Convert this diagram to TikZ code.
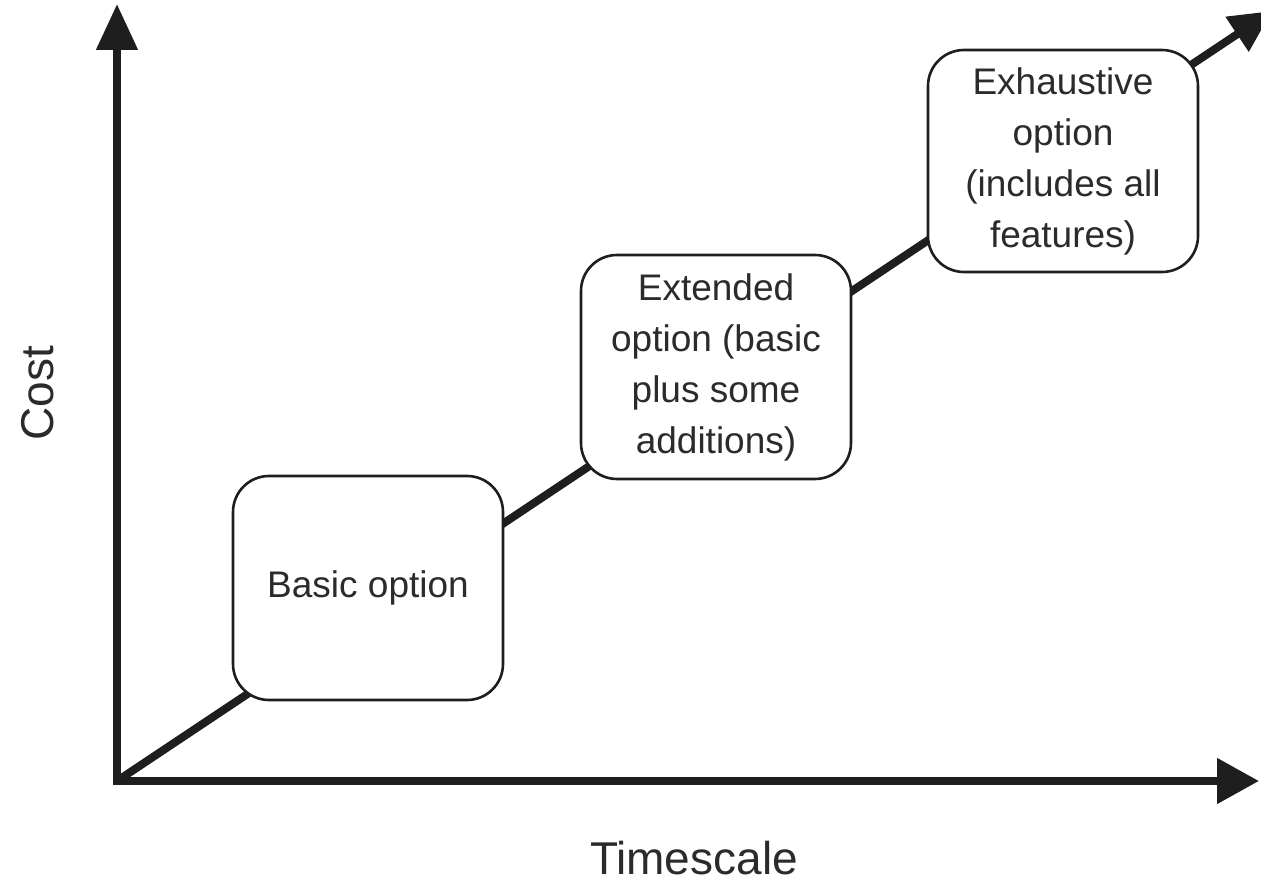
\documentclass[tikz,border=0pt]{standalone}
\usepackage{fontspec}
\setmainfont{Liberation Sans}
\usetikzlibrary{arrows.meta}
\definecolor{ink}{HTML}{1E1E1E}
\definecolor{txt}{HTML}{2B2B2B}
\begin{document}
\begin{tikzpicture}[x=1pt,y=-1pt,
  axisline/.style={line width=8pt, draw=ink, line join=miter},
  optbox/.style={draw=ink, line width=2.6pt, fill=white, rounded corners=36pt,
    minimum width=270pt, minimum height=224pt, align=center, text=txt,
    font=\fontsize{37}{51}\selectfont, inner sep=0pt},
  axislabel/.style={text=txt, font=\fontsize{46}{50}\selectfont}]
\useasboundingbox (0,0) rectangle (1261,890);
\coordinate (O) at (117,781);
\coordinate (Ytip) at (117,4);
\coordinate (Xtip) at (1259,781);
\coordinate (Dtip) at (1272,11);
% diagonal cost line
\draw[axisline, -{Triangle[length=42pt,width=40pt]}] (O) -- (Dtip);
% axes
\draw[axisline, {Triangle[length=46pt,width=40pt]}-{Triangle[length=42pt,width=44pt]}] (Ytip) -- (O) -- (Xtip);
% option boxes
\node[optbox] (basic) at (368,588) {Basic option};
\node[optbox] (ext) at (716,367) {Extended\\option (basic\\plus some\\additions)};
\node[optbox, minimum height=222pt] (exh) at (1063,161) {Exhaustive\\option\\(includes all\\features)};
% axis labels
\node[axislabel, rotate=90] (cost) at (38,393) {Cost};
\node[axislabel] (time) at (694,858) {Timescale};
\end{tikzpicture}
\end{document}
